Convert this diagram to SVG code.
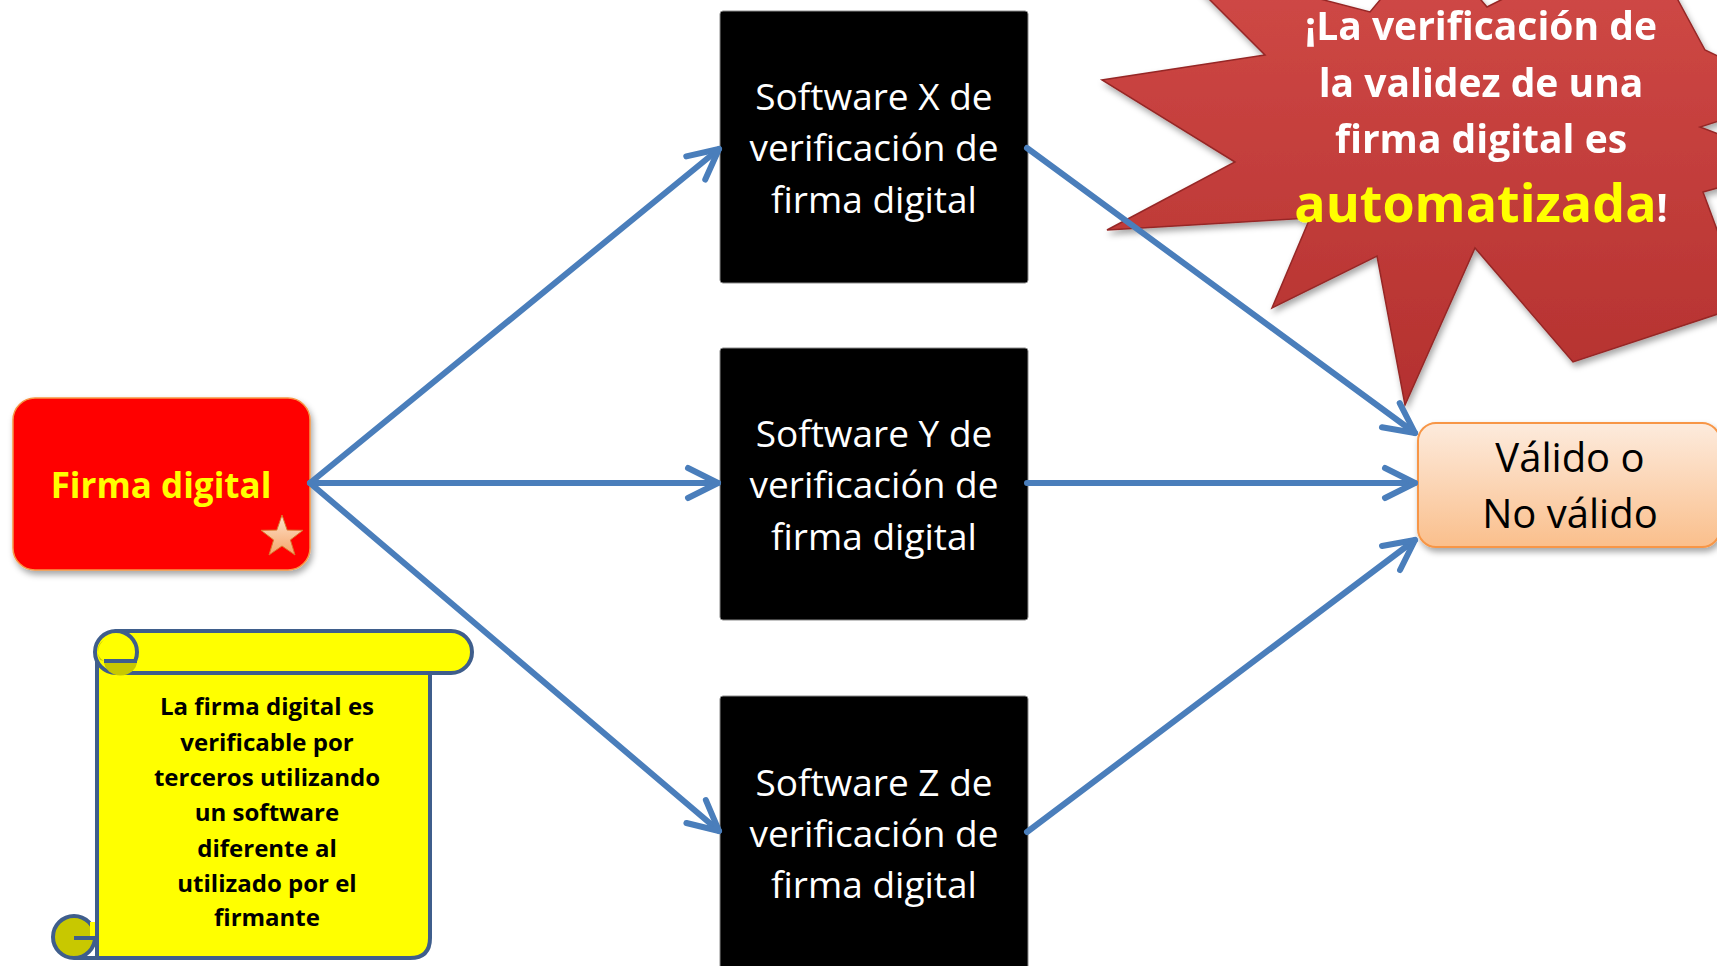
<svg xmlns="http://www.w3.org/2000/svg" width="1717" height="966" viewBox="0 0 1717 966">
<style>
.sw{font-family:"Open Sans","Noto Sans","Liberation Sans",sans-serif;font-size:37px;fill:#fff;text-anchor:middle}
.bx{fill:#000;stroke:#8a8a8a;stroke-width:1}
.con{fill:none;stroke:#4A7EBB;stroke-width:6;stroke-linecap:round;marker-end:url(#arr)}
.st{font-family:"Open Sans","Noto Sans","Liberation Sans",sans-serif;font-weight:bold;fill:#fff;text-anchor:middle;font-size:39px}
.sc{font-family:"Open Sans","Noto Sans","Liberation Sans",sans-serif;font-weight:bold;fill:#000;text-anchor:middle;font-size:24px}
.scroll{stroke:#3F5E8C;stroke-width:4;stroke-linejoin:round}
</style>
<defs>
<marker id="arr" markerUnits="userSpaceOnUse" viewBox="-36 -20 40 40" refX="0" refY="0" markerWidth="40" markerHeight="40" orient="auto" overflow="visible">
<path d="M-30,-15 L0,0 L-30,15" fill="none" stroke="#4A7EBB" stroke-width="6" stroke-linecap="round" stroke-linejoin="round"/>
</marker>
<filter id="sh" x="-10%" y="-10%" width="130%" height="130%">
<feDropShadow dx="2" dy="4" stdDeviation="3" flood-color="#000" flood-opacity="0.35"/>
</filter>
<linearGradient id="gStar" x1="0" y1="0" x2="0" y2="1">
<stop offset="0" stop-color="#D24B48"/>
<stop offset="1" stop-color="#B4312F"/>
</linearGradient>
<linearGradient id="gVal" x1="0" y1="0" x2="0" y2="1">
<stop offset="0" stop-color="#FDEBDD"/>
<stop offset="1" stop-color="#FABF8C"/>
</linearGradient>
<linearGradient id="gPstar" x1="0" y1="0" x2="0" y2="1">
<stop offset="0" stop-color="#FDE3CC"/>
<stop offset="1" stop-color="#F5A469"/>
</linearGradient>
</defs>
<rect width="1717" height="966" fill="#fff"/>

<g id="burst" filter="url(#sh)">
<polygon points="1170,-40 1265,55 1102,80 1235,162 1107,230 1310,218 1272,308 1377,256 1405,405 1475,248 1573,362 1745,305 1703,192 1800,165 1700,127 1800,95 1705,50 1640,-70 1487,7 1430,-60 1370,12" fill="url(#gStar)" stroke="#962826" stroke-width="1.5" stroke-linejoin="miter"/>
<text class="st" x="1481" y="40">¡La verificación de</text>
<text class="st" x="1481" y="97">la validez de una</text>
<text class="st" x="1481" y="153">firma digital es</text>
<text class="st" x="1481" y="222"><tspan fill="#FFFF00" font-size="52px">automatizada</tspan>!</text>
</g>

<g id="firma">
<rect x="13" y="398" width="297" height="172" rx="22" fill="#FF0000" stroke="#F79646" stroke-width="1.5" filter="url(#sh)"/>
<text x="161" y="498" font-family="Open Sans, Noto Sans, Liberation Sans, sans-serif" font-weight="bold" font-size="35" fill="#FFFF00" text-anchor="middle">Firma digital</text>
<polygon points="282,515 287.2,530.1 303,530.3 290.4,539.9 295,555 282,546 269,555 273.6,539.9 261,530.3 276.8,530.1" fill="url(#gPstar)" stroke="#D9772E" stroke-width="1"/>
</g>

<g id="swX">
<rect class="bx" x="720" y="11" width="308" height="272" rx="3"/>
<text class="sw" x="874" y="110">Software X de</text>
<text class="sw" x="874" y="161">verificación de</text>
<text class="sw" x="874" y="213">firma digital</text>
</g>
<g id="swY">
<rect class="bx" x="720" y="348" width="308" height="272" rx="3"/>
<text class="sw" x="874" y="447">Software Y de</text>
<text class="sw" x="874" y="498">verificación de</text>
<text class="sw" x="874" y="550">firma digital</text>
</g>
<g id="swZ">
<rect class="bx" x="720" y="696" width="308" height="290" rx="3"/>
<text class="sw" x="874" y="796">Software Z de</text>
<text class="sw" x="874" y="847">verificación de</text>
<text class="sw" x="874" y="898">firma digital</text>
</g>

<g id="valido">
<rect x="1418" y="423" width="302" height="124" rx="18" fill="url(#gVal)" stroke="#F79646" stroke-width="2" filter="url(#sh)"/>
<text x="1570" y="472" font-family="Open Sans, Noto Sans, Liberation Sans, sans-serif" font-size="40" fill="#000" text-anchor="middle">Válido o</text>
<text x="1570" y="528" font-family="Open Sans, Noto Sans, Liberation Sans, sans-serif" font-size="40" fill="#000" text-anchor="middle">No válido</text>
</g>

<g id="scroll">
<path class="scroll" d="M97,652 L97,958 L410,958 Q430,958 430,938 L430,673 Z" fill="#FFFF00"/>
<path class="scroll" d="M116,631 H451 A21,21 0 0 1 451,673 H116 Z" fill="#FFFF00"/>
<circle class="scroll" cx="116" cy="652" r="21" fill="#FFFF00"/>
<path d="M104,661 H137 A16,14 0 0 1 104,661 Z" fill="#C8C800"/>
<path d="M100,660 A16,16 0 0 1 104,640 A12,12 0 0 0 104,661 Z" fill="#C8C800"/>
<path class="scroll" d="M104,661 H137" fill="none"/>
<circle class="scroll" cx="74" cy="937" r="21" fill="#C8C800"/>
<path d="M90,922 H96 V940 H90 Z" fill="#FFFF00"/>
<path class="scroll" d="M74,938 H95" fill="none"/>
<path class="scroll" d="M97,916 V958 H74" fill="none"/>
<text class="sc" x="267" y="715">La firma digital es</text>
<text class="sc" x="267" y="751">verificable por</text>
<text class="sc" x="267" y="786">terceros utilizando</text>
<text class="sc" x="267" y="821">un software</text>
<text class="sc" x="267" y="857">diferente al</text>
<text class="sc" x="267" y="892">utilizado por el</text>
<text class="sc" x="267" y="926">firmante</text>
</g>

<g id="connectors">
<line class="con" x1="310" y1="483" x2="719" y2="149"/>
<line class="con" x1="310" y1="483" x2="718" y2="483"/>
<line class="con" x1="310" y1="483" x2="719" y2="831"/>
<line class="con" x1="1027" y1="148" x2="1415" y2="433"/>
<line class="con" x1="1027" y1="483" x2="1415" y2="483"/>
<line class="con" x1="1027" y1="832" x2="1415" y2="540"/>
</g>
</svg>
